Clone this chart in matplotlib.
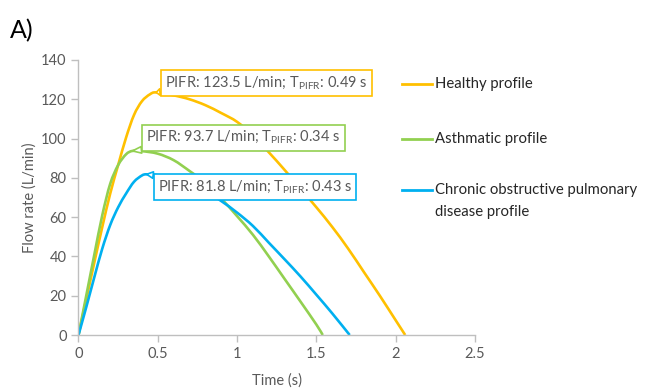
import matplotlib.pyplot as plt
from matplotlib.lines import Line2D
from matplotlib.path import Path
from matplotlib.patches import PathPatch

plt.rcParams['font.family'] = ['Lato', 'DejaVu Sans']
plt.rcParams['mathtext.fontset'] = 'custom'
plt.rcParams['mathtext.rm'] = 'Lato'

# inspiratory flow profiles (time in s, flow in L/min)
healthy_t = [0, 0.05, 0.1, 0.15, 0.2, 0.25, 0.3, 0.35, 0.4, 0.45, 0.49, 0.6, 0.7, 0.8,
             0.9, 1.0, 1.1, 1.2, 1.3, 1.4, 1.5, 1.6, 1.7, 1.8, 1.9, 2.0, 2.06]
healthy_q = [0, 18.5, 37, 55, 72, 86.5, 100.5, 112, 119, 122.5, 123.5, 122, 120, 117,
             113, 108.5, 101.5, 93, 84, 74.5, 65, 55, 44, 32, 20, 7.5, 0]

asthma_t = [0, 0.05, 0.1, 0.15, 0.2, 0.25, 0.3, 0.34, 0.4, 0.5, 0.6, 0.7, 0.8, 0.9,
            1.0, 1.1, 1.2, 1.3, 1.4, 1.5, 1.54]
asthma_q = [0, 20.5, 41, 61, 77, 86.5, 92, 93.7, 93.6, 92.3, 89, 83.5, 77.5, 69.5,
            60.5, 51, 40, 28.5, 17, 5.3, 0]

copd_t = [0, 0.05, 0.1, 0.15, 0.2, 0.25, 0.3, 0.35, 0.4, 0.43, 0.5, 0.6, 0.7, 0.8,
          0.9, 1.0, 1.1, 1.2, 1.3, 1.4, 1.5, 1.6, 1.71]
copd_q = [0, 14.5, 29.5, 44, 56, 65, 72, 78, 81.2, 81.8, 81.3, 79.5, 76.5, 73.3,
          68.2, 62.3, 55.5, 47, 38.5, 29.8, 20.5, 11, 0]

names = ['Healthy profile', 'Asthmatic profile',
         'Chronic obstructive pulmonary\ndisease profile']
colors = ['#FFC000', '#92D050', '#00B0F0']
peak_q = [123.5, 93.7, 81.8]
peak_t = [0.49, 0.34, 0.43]
# where each callout box sits (left edge, vertical centre) in data units
box_xy = [(0.545, 128.3), (0.428, 100.4), (0.502, 75.3)]

grey = '#595959'
axis_grey = '#BFBFBF'


def smooth_path(t, q):
    # smoothed line: cubic Bezier segments through every point
    pts = list(zip(t, q))
    verts = [pts[0]]
    codes = [Path.MOVETO]
    n = len(pts)
    for i in range(n - 1):
        p0 = pts[i - 1] if i > 0 else pts[i]
        p1 = pts[i]
        p2 = pts[i + 1]
        p3 = pts[i + 2] if i + 2 < n else pts[i + 1]
        c1 = (p1[0] + (p2[0] - p0[0]) / 6, p1[1] + (p2[1] - p0[1]) / 6)
        c2 = (p2[0] - (p3[0] - p1[0]) / 6, p2[1] - (p3[1] - p1[1]) / 6)
        verts += [c1, c2, p2]
        codes += [Path.CURVE4] * 3
    return Path(verts, codes)


fig = plt.figure(figsize=(6.45, 3.89), dpi=100)
ax = fig.add_axes([0.1217, 0.1388, 0.6147, 0.707])

for t, q, c in zip([healthy_t, asthma_t, copd_t], [healthy_q, asthma_q, copd_q], colors):
    ax.add_patch(PathPatch(smooth_path(t, q), fill=False, ec=c, lw=1.9,
                           capstyle='butt', joinstyle='round'))

for c, pq, pt, (bx, by) in zip(colors, peak_q, peak_t, box_xy):
    label = 'PIFR: %.1f L/min; T$_{\\mathrm{PIFR}}$: %.2f s' % (pq, pt)
    ax.annotate(label, xy=(pt, pq), xytext=(bx, by), textcoords='data',
                ha='left', va='center', fontsize=10.5, color=grey,
                bbox=dict(boxstyle='square,pad=0.3', fc='white', ec=c, lw=1.2),
                arrowprops=dict(arrowstyle='wedge,tail_width=0.45', fc='white',
                                ec=c, lw=1.2, shrinkA=0, shrinkB=0),
                zorder=5)

ax.set_xlim(0, 2.5)
ax.set_ylim(0, 140)
ax.set_xticks([0, 0.5, 1, 1.5, 2, 2.5])
ax.set_xticklabels(['0', '0.5', '1', '1.5', '2', '2.5'])
ax.set_yticks(range(0, 141, 20))
ax.tick_params(colors=axis_grey, labelcolor=grey, labelsize=10.5, length=5, width=1)
for s in ['top', 'right']:
    ax.spines[s].set_visible(False)
for s in ['left', 'bottom']:
    ax.spines[s].set_color(axis_grey)
    ax.spines[s].set_linewidth(1)

ax.set_xlabel('Time (s)', color=grey, fontsize=10.5, labelpad=9)
ax.set_ylabel('Flow rate (L/min)', color=grey, fontsize=10.5, labelpad=3)

# legend drawn at the right of the plot
leg_y = [84, 139, 190]
W, H = 645, 389
for name, c, y in zip(names, colors, leg_y):
    fig.add_artist(Line2D([402 / W, 432 / W], [1 - y / H, 1 - y / H], color=c, lw=2))
    fig.text(435 / W, 1 - y / H, name.split('\n')[0], ha='left', va='center',
             fontsize=10.7, color='#262626')
    if '\n' in name:
        fig.text(435 / W, 1 - (y + 22) / H, name.split('\n')[1], ha='left',
                 va='center', fontsize=10.7, color='#262626')

fig.text(10 / W, 1 - 31 / H, 'A)', fontsize=18, ha='left', va='center', color='black')

fig.savefig('out.png', dpi=100)
